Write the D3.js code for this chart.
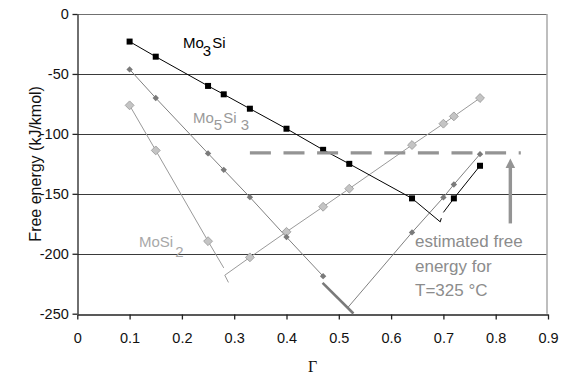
<!DOCTYPE html>
<html>
<head>
<meta charset="utf-8">
<script src="https://d3js.org/d3.v7.min.js"></script>
<style>
    body { margin: 0; padding: 0; background: #fff; }
    svg text { font-family: Arial, "Liberation Sans", sans-serif; }
</style>
</head>
<body>
<div id="chart"></div>
<script>
    // values
    const xTicks = [0, 0.1, 0.2, 0.3, 0.4, 0.5, 0.6, 0.7, 0.8, 0.9];
    const yTicks = [-250, -200, -150, -100, -50, 0];

    const gammaMo3Si  = [0.10, 0.15, 0.25, 0.28, 0.33, 0.40, 0.47, 0.52, 0.64, 0.72, 0.77];
    const energyMo3Si = [-23, -35.6, -60, -67, -79, -95.7, -113.3, -125, -153.8, -153.8, -126.6];
    const splitMo3Si = 9;
    const tailMo3Si = [[0.694, -173.4], [0.696, -170.3]];
    const headMo3Si = [[0.700, -165.5]];

    const gammaMo5Si3  = [0.10, 0.15, 0.25, 0.28, 0.33, 0.40, 0.47, 0.64, 0.70, 0.72, 0.77];
    const energyMo5Si3 = [-46.2, -70.1, -116.3, -130, -152.8, -186.1, -218.7, -182.2, -153, -142.2, -116.9];
    const splitMo5Si3 = 7;
    const tailMo5Si3 = [];
    const headMo5Si3 = [[0.518, -244.5]];

    const gammaMoSi2  = [0.10, 0.15, 0.25, 0.33, 0.40, 0.47, 0.52, 0.64, 0.70, 0.72, 0.77];
    const energyMoSi2 = [-76.2, -113.8, -189.5, -203, -181.7, -160.8, -145.7, -109.3, -91.5, -85.4, -70.1];
    const splitMoSi2 = 3;
    const tailMoSi2 = [[0.280, -211.8]];
    const headMoSi2 = [[0.289, -223.9], [0.282, -217.9]];

    const thickGamma = [0.469, 0.528];
    const thickEnergy = [-224.3, -249.8];

    const estGamma = [0.33, 0.848];
    const estEnergy = -115.8;
    const arrowGamma = 0.828;
    const arrowEnergy = [-174.7, -120.5];

    const width = 569, height = 375;
    const mLeft = 77.3, mRight = 548, mTop = 14, mBottom = 313.7;

    let svg = d3.select("#chart").append("svg")
        .attr("width", width).attr("height", height);

    let x = d3.scaleLinear().domain([0, 0.9]).range([mLeft, mRight]);
    let y = d3.scaleLinear().domain([-250, 0]).range([mBottom, mTop]);

    // gridlines
    svg.append("g").selectAll("line")
        .data(yTicks.filter(function(d) { return d > -250; }))
        .enter().append("line")
        .attr("x1", mLeft).attr("x2", x(0.9) - 1)
        .attr("y1", function(d) { return Math.round(y(d)) + 0.5; })
        .attr("y2", function(d) { return Math.round(y(d)) + 0.5; })
        .style("stroke", function(d) { return d == 0 ? "#707070" : "#3a3a3a"; })
        .style("stroke-width", 1);

    // right border
    svg.append("line")
        .attr("x1", x(0.9) - 1).attr("x2", x(0.9) - 1)
        .attr("y1", y(0)).attr("y2", y(-250))
        .style("stroke", "#a8a8a8").style("stroke-width", 1.5);

    // axes
    let xAxis = svg.append("g")
        .attr("transform", "translate(0," + (Math.round(mBottom) + 0.5) + ")")
        .call(d3.axisBottom(x).tickValues(xTicks).tickSize(5).tickSizeOuter(0)
            .tickFormat(function(d) { return String(d); }));
    let yAxis = svg.append("g")
        .attr("transform", "translate(" + (Math.round(mLeft) + 0.5) + ",0)")
        .call(d3.axisLeft(y).tickValues(yTicks).tickSize(5).tickSizeOuter(0)
            .tickFormat(function(d) { return String(d); }));

    [xAxis, yAxis].forEach(function(a) {
        a.select(".domain").style("stroke", "#222").style("stroke-width", 1.3);
        a.selectAll(".tick line").style("stroke", "#222").style("stroke-width", 1.3);
        a.selectAll("text").style("font-size", "14.5px").style("fill", "#111")
            .style("font-family", "Arial, 'Liberation Sans', sans-serif");
    });
    xAxis.selectAll("text").attr("y", 18).attr("dy", "0.71em");
    yAxis.selectAll("text").attr("dx", "-0.05em");

    let line = d3.line()
        .x(function(d) { return x(d[0]); })
        .y(function(d) { return y(d[1]); });

    function pairs(g, e) {
        return g.map(function(v, i) { return [v, e[i]]; });
    }

    function drawSeries(g, e, split, tail, head, color) {
        let pts = pairs(g, e);
        let leftBranch = pts.slice(0, split).concat(tail);
        let rightBranch = head.concat(pts.slice(split));
        [leftBranch, rightBranch].forEach(function(b) {
            svg.append("path")
                .attr("d", line(b))
                .style("fill", "none")
                .style("stroke", color)
                .style("stroke-width", 1);
        });
        return pts;
    }

    // MoSi2
    let ptsMoSi2 = drawSeries(gammaMoSi2, energyMoSi2, splitMoSi2, tailMoSi2, headMoSi2, "#9a9a9a");
    // Mo5Si3
    let ptsMo5Si3 = drawSeries(gammaMo5Si3, energyMo5Si3, splitMo5Si3, tailMo5Si3, headMo5Si3, "#808080");
    svg.append("path")
        .attr("d", line(pairs(thickGamma, thickEnergy)))
        .style("fill", "none").style("stroke", "#7a7a7a").style("stroke-width", 2.6);
    // Mo3Si
    let ptsMo3Si = drawSeries(gammaMo3Si, energyMo3Si, splitMo3Si, tailMo3Si, headMo3Si, "#000");

    // markers
    let diamond = d3.symbol().type(d3.symbolDiamond2);
    svg.append("g").selectAll("path")
        .data(ptsMoSi2).enter().append("path")
        .attr("d", diamond.size(50)())
        .attr("transform", function(d) { return "translate(" + x(d[0]) + "," + y(d[1]) + ")"; })
        .style("fill", "#c4c4c4").style("stroke", "#a4a4a4").style("stroke-width", 1);
    svg.append("g").selectAll("path")
        .data(ptsMo5Si3).enter().append("path")
        .attr("d", diamond.size(26)())
        .attr("transform", function(d) { return "translate(" + x(d[0]) + "," + y(d[1]) + ")"; })
        .style("fill", "#7a7a7a");
    svg.append("g").selectAll("rect")
        .data(ptsMo3Si).enter().append("rect")
        .attr("x", function(d) { return x(d[0]) - 3; })
        .attr("y", function(d) { return y(d[1]) - 3; })
        .attr("width", 6).attr("height", 6)
        .style("fill", "#000");

    // estimated free energy level and arrow
    svg.append("line")
        .attr("x1", x(estGamma[0])).attr("x2", x(estGamma[1]))
        .attr("y1", y(estEnergy)).attr("y2", y(estEnergy))
        .style("stroke", "#949494").style("stroke-width", 3.2)
        .style("stroke-dasharray", "21,12.6");
    svg.append("line")
        .attr("x1", x(arrowGamma)).attr("x2", x(arrowGamma))
        .attr("y1", y(arrowEnergy[0])).attr("y2", y(arrowEnergy[1]) + 8)
        .style("stroke", "#949494").style("stroke-width", 3.4);
    let ax = x(arrowGamma), ay = y(arrowEnergy[1]);
    svg.append("path")
        .attr("d", "M" + ax + "," + ay + "L" + (ax + 4.8) + "," + (ay + 9.5) + "L" + (ax - 4.8) + "," + (ay + 9.5) + "Z")
        .style("fill", "#949494");

    // series labels
    function label(tx, ty, parts, color, size) {
        let t = svg.append("text").attr("x", tx).attr("y", ty)
            .style("font-size", size + "px").style("fill", color);
        parts.forEach(function(p) {
            let s = t.append("tspan").text(p[0]);
            if (p[1]) s.attr("dy", p[1]);
            if (p[2]) s.attr("dx", p[2]);
        });
    }
    label(183, 48, [["Mo"], ["3", 8, -1], ["Si", -8, 1]], "#000", 15);
    label(193, 123, [["Mo"], ["5", 7], ["Si", -7, 1], [" 3", 7]], "#9a9a9a", 15);
    label(139, 247, [["MoSi"], ["2", 10, 2]], "#a8a8a8", 15);

    svg.append("text").attr("x", 415).attr("y", 246.5)
        .style("font-size", "17px").style("fill", "#8c8c8c").text("estimated free");
    svg.append("text").attr("x", 415).attr("y", 271.5)
        .style("font-size", "17px").style("fill", "#8c8c8c").text("energy for");
    svg.append("text").attr("x", 415).attr("y", 295.5)
        .style("font-size", "17px").style("fill", "#8c8c8c").text("T=325 \u00b0C");

    // axis titles
    svg.append("text")
        .attr("transform", "translate(41," + ((mTop + mBottom) / 2) + ") rotate(-90)")
        .attr("text-anchor", "middle")
        .style("font-size", "16px").style("fill", "#111")
        .text("Free energy (kJ/kmol)");
    svg.append("text")
        .attr("x", x(0.45)).attr("y", 372)
        .attr("text-anchor", "middle")
        .style("font-family", "'Liberation Serif', 'Times New Roman', serif")
        .style("font-size", "16px").style("fill", "#111")
        .text("\u0393");
</script>
</body>
</html>
